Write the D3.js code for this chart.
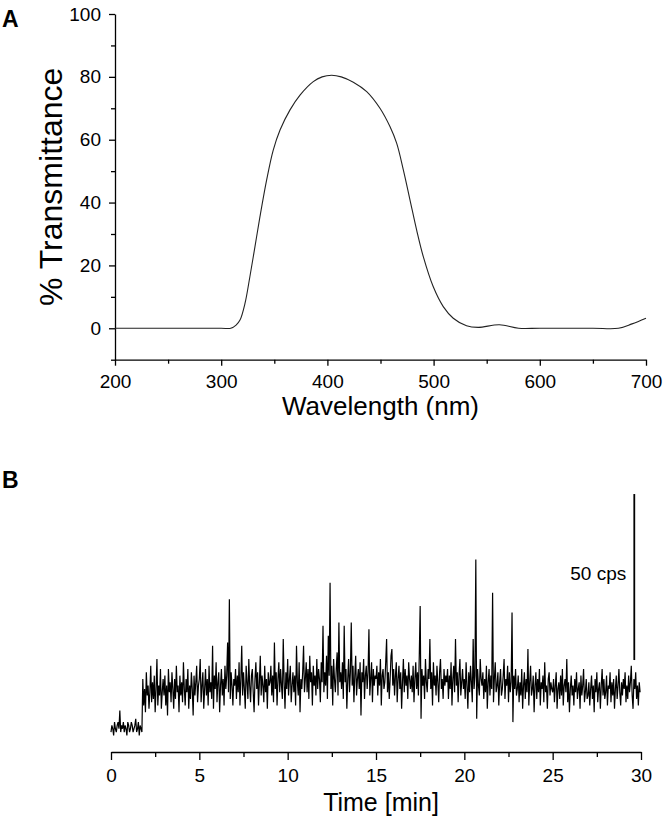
<!DOCTYPE html>
<html>
<head>
<meta charset="utf-8">
<script src="https://cdn.jsdelivr.net/npm/d3@7"></script>
<style>
  html, body { margin: 0; padding: 0; background: #fff; }
  svg { display: block; font-family: "Liberation Sans", Arial, sans-serif; }
  .axis path, .axis line { stroke: #000; stroke-width: 1.3; }
  .axis text { font-size: 19px; fill: #000; font-family: "Liberation Sans", Arial, sans-serif; }
</style>
</head>
<body>
<svg id="chart" width="672" height="822"></svg>
<script>
// ---------- Panel A: transmittance spectrum ----------
const wavelengths = [200, 250, 300, 309, 314, 317.7, 322.4, 327, 331.8, 336.5, 342.8, 349, 355.4, 364.8, 374.2, 386.7, 395, 404, 413, 424.4, 437, 449.5, 459, 465.2, 471.5, 477.8, 484, 490.3, 499.7, 509.1, 518.5, 531, 542, 562, 580, 600, 650, 674, 686.8, 700];
const transmittance = [0, 0, 0, 0, 1, 2.6, 7.9, 16.4, 26, 35.5, 47.2, 56.7, 63.1, 69.5, 74.2, 78.5, 80.0, 80.5, 80.0, 78.3, 75.3, 70, 64.1, 58.9, 50.4, 40.8, 31.3, 22.8, 13.2, 6.9, 3.2, 0.8, 0.3, 1.1, 0, 0, 0, 0, 1.4, 3.2];
const wlTicks = [200, 300, 400, 500, 600, 700];
const wlMinorTicks = [250, 350, 450, 550, 650];
const tTicks = [0, 20, 40, 60, 80, 100];
const tMinorTicks = [-10, 10, 30, 50, 70, 90];

// ---------- Panel B: count-rate trace (cps), sampled every 0.05 min ----------
const sampleStep = 0.05;
const countRate = [
  6,8,7,5,9,7,6,8,9,7,12.5,6,8,7,9,6,8,7,5,9,8,6,7,9,8,6,7,8,10,6,7,9,5,8,7,6,
  22,14,19,12,24,17,20,13,18,26,15,21,16,23,12,19,28,14,20,17,25,13,18,22,
  17,23,14,20,11,25,18,21,15,24,19,13,22,16,26,18,20,12,23,17,21,15,27,19,14,22,18,25,13,20,16,24,19,11,23,17,21,26,15,20,
  22,28,15,20,24,13,19,25,17,22,14,26,18,21,16,32,13,23,19,27,15,21,24,12,20,25,17,22,14,26,19,23,33,18,46,16,24,20,14,22,
  20,25,16,23,18,27,14,22,32,17,24,19,13,26,21,16,28,20,15,23,25,18,12,22,27,19,24,14,21,29,17,23,20,15,26,18,22,13,24,20,
  21,26,17,23,15,33,19,24,14,22,27,18,25,20,16,34,21,13,24,19,28,17,22,26,15,20,24,18,23,14,32,21,17,27,12,22,19,24,32,18,
  22,27,18,25,16,29,21,24,14,26,20,23,17,28,19,25,22,15,27,21,38,18,24,20,29,16,35,23,51,19,26,14,28,22,18,25,30,17,39,21,
  24,19,27,16,38,21,25,13,22,28,18,24,39,20,26,15,23,29,17,22,25,19,27,11,24,21,28,16,23,26,19,24,37,17,22,27,15,25,20,23,
  22,26,17,24,20,28,14,23,25,19,21,27,34,18,24,16,22,29,31,20,25,17,23,27,15,22,26,19,24,13,21,28,18,25,20,23,16,27,22,19,
  23,18,26,15,22,27,19,24,17,29,44,10,25,20,23,16,28,21,18,25,22,34,19,24,14,27,20,23,17,26,21,15,24,28,19,22,16,25,20,23,
  21,25,16,23,19,27,14,22,26,18,34,20,24,15,23,28,17,21,25,19,22,16,27,20,13,24,18,26,21,15,34,19,23,58,10,25,20,17,28,22,
  20,24,16,22,18,26,13,21,25,17,23,19,48,15,22,27,18,20,24,14,21,25,17,19,23,28,16,22,20,26,15,24,18,21,42,9,23,19,25,17,
  19,23,15,21,17,25,13,20,24,16,22,18,31,14,21,26,17,19,23,12,20,24,16,22,18,25,14,21,19,23,15,27,18,20,13,22,24,17,21,19,
  18,22,15,20,24,13,19,21,16,23,17,25,14,20,22,18,28,15,21,12,19,23,17,20,14,22,18,24,16,19,21,13,23,17,20,25,15,18,22,16,
  17,21,14,19,23,16,20,12,22,18,24,15,19,21,13,20,25,17,22,16,18,23,14,20,19,24,15,21,17,22,13,19,23,16,20,25,18,14,21,17,22,19,24,15,20,16,23,18,21,26,17,13,22,19,24,16,20,14,21,18
];
const timeTicks = [0, 5, 10, 15, 20, 25, 30];
const timeMinorTicks = [2.5, 7.5, 12.5, 17.5, 22.5, 27.5];
const scaleBarTime = 29.62;
const scaleBarBase = 27.7;
const scaleBarLength = 50;
const scaleBarLabel = "50 cps";

const svg = d3.select("#chart");

// ===== Panel A =====
const xA = d3.scaleLinear().domain([200, 700]).range([115, 646]);
const yA = d3.scaleLinear().domain([-10, 100]).range([359.7, 14]);

const gA = svg.append("g");

gA.append("g").attr("class", "axis")
  .attr("transform", `translate(0,${yA(-10)})`)
  .call(d3.axisBottom(xA).tickValues(wlMinorTicks).tickSize(4).tickFormat("").tickSizeOuter(0))
  .select(".domain").remove();
gA.append("g").attr("class", "axis")
  .attr("transform", `translate(${xA(200)},0)`)
  .call(d3.axisLeft(yA).tickValues(tMinorTicks).tickSize(4).tickFormat("").tickSizeOuter(0))
  .select(".domain").remove();

gA.append("g").attr("class", "axis")
  .attr("transform", `translate(0,${yA(-10)})`)
  .call(d3.axisBottom(xA).tickValues(wlTicks).tickSize(6).tickPadding(9).tickSizeOuter(0));
gA.append("g").attr("class", "axis")
  .attr("transform", `translate(${xA(200)},0)`)
  .call(d3.axisLeft(yA).tickValues(tTicks).tickSize(6).tickPadding(8).tickSizeOuter(0));

const lineA = d3.line()
  .x((d, i) => xA(wavelengths[i]))
  .y(d => yA(d))
  .curve(d3.curveCatmullRom.alpha(0.5));
gA.append("path")
  .datum(transmittance)
  .attr("d", lineA)
  .attr("fill", "none")
  .attr("stroke", "#222")
  .attr("stroke-width", 1.1);

gA.append("text")
  .attr("x", (xA(200) + xA(700)) / 2)
  .attr("y", 415)
  .attr("text-anchor", "middle")
  .attr("font-size", 26)
  .text("Wavelength (nm)");

gA.append("text")
  .attr("transform", `translate(62,${(yA(-10) + yA(100)) / 2}) rotate(-90)`)
  .attr("text-anchor", "middle")
  .attr("font-size", 32)
  .text("% Transmittance");

svg.append("text").attr("x", 2).attr("y", 27)
  .attr("font-size", 23).attr("font-weight", "bold").text("A");

// ===== Panel B =====
const xB = d3.scaleLinear().domain([0, 30]).range([111, 641]);
const yB = d3.scaleLinear().domain([0, 80]).range([752, 486.4]);

const gB = svg.append("g");

gB.append("g").attr("class", "axis")
  .attr("transform", `translate(0,${yB(0)})`)
  .call(d3.axisBottom(xB).tickValues(timeMinorTicks).tickSize(5).tickFormat("").tickSizeOuter(0))
  .select(".domain").remove();
gB.append("g").attr("class", "axis")
  .attr("transform", `translate(0,${yB(0)})`)
  .call(d3.axisBottom(xB).tickValues(timeTicks).tickSize(8).tickPadding(9).tickSizeOuter(0));

const lineB = d3.line()
  .x((d, i) => xB(i * sampleStep))
  .y(d => yB(d));
gB.append("path")
  .datum(countRate)
  .attr("d", lineB)
  .attr("fill", "none")
  .attr("stroke", "#000")
  .attr("stroke-width", 1.2);

gB.append("line")
  .attr("x1", xB(scaleBarTime)).attr("x2", xB(scaleBarTime))
  .attr("y1", yB(scaleBarBase)).attr("y2", yB(scaleBarBase + scaleBarLength))
  .attr("stroke", "#000").attr("stroke-width", 1.8);
gB.append("text")
  .attr("x", xB(scaleBarTime) - 8)
  .attr("y", 580)
  .attr("text-anchor", "end")
  .attr("font-size", 19)
  .text(scaleBarLabel);

gB.append("text")
  .attr("x", (xB(0) + xB(30)) / 2 + 5)
  .attr("y", 811)
  .attr("text-anchor", "middle")
  .attr("font-size", 25)
  .text("Time [min]");

svg.append("text").attr("x", 2).attr("y", 488)
  .attr("font-size", 23).attr("font-weight", "bold").text("B");
</script>
</body>
</html>
